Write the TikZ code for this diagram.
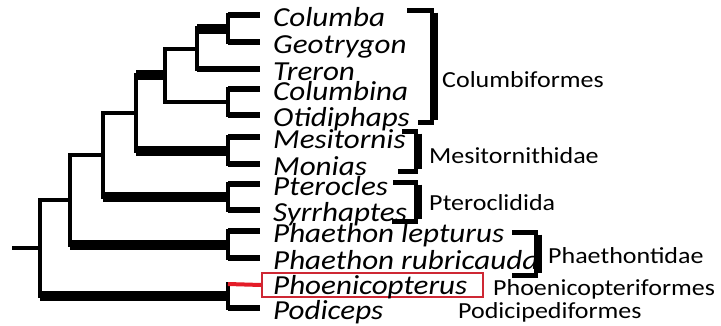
\documentclass[tikz,border=0pt]{standalone}
\usepackage{fontspec}
\newfontfamily\spfont[FakeStretch=1.13]{Carlito}
\definecolor{boxred}{RGB}{206,40,52}
\definecolor{linered}{RGB}{228,28,40}
\begin{document}
\begin{tikzpicture}[x=1pt,y=-1pt,
  vline/.style={line width=4.5pt,line cap=rect},
  hthin/.style={line width=4.5pt},
  hthick/.style={line width=10pt},
  leaf/.style={line width=5.5pt},
  sp/.style={inner sep=0pt,font=\spfont\itshape\fontsize{27.5}{27.5}\selectfont},
  lab/.style={inner sep=0pt,font=\spfont\fontsize{23}{23}\selectfont},
  brh/.style={line width=5pt},
  brv/.style={line width=8pt}]
\useasboundingbox (0,0) rectangle (721,325);
% leaf tips
\coordinate (t1) at (260,15);
\coordinate (t2) at (260,42);
\coordinate (t3) at (260,69);
\coordinate (t4) at (260,89);
\coordinate (t5) at (260,115);
\coordinate (t6) at (260,137);
\coordinate (t7) at (260,164);
\coordinate (t8) at (260,184);
\coordinate (t9) at (260,210);
\coordinate (t10) at (260,231);
\coordinate (t11) at (260,258);
\coordinate (t12) at (260,284);
\coordinate (t13) at (260,308);
% internal nodes
\coordinate (A) at (228,28.5);
\coordinate (B) at (197,48.75);
\coordinate (C) at (228,102);
\coordinate (D) at (165,75.4);
\coordinate (E) at (228,150.5);
\coordinate (F) at (136,113);
\coordinate (G) at (228,197);
\coordinate (H) at (103,155);
\coordinate (I) at (228,244.5);
\coordinate (J) at (70,199.75);
\coordinate (K) at (228,296);
\coordinate (L) at (40,247.9);
\coordinate (R) at (12,247.9);
% verticals
\draw[vline] (A |- t1) -- (A |- t2);
\draw[vline] (B |- A) -- (B |- t3);
\draw[vline] (C |- t4) -- (C |- t5);
\draw[vline] (D |- B) -- (D |- C);
\draw[vline] (E |- t6) -- (E |- t7);
\draw[vline] (F |- D) -- (F |- E);
\draw[vline] (G |- t8) -- (G |- t9);
\draw[vline] (H |- F) -- (H |- G);
\draw[vline] (I |- t10) -- (I |- t11);
\draw[vline] (J |- H) -- (J |- I);
\draw[vline] (K |- t12) -- (K |- t13);
\draw[vline] (L |- J) -- (L |- K);
% branches
\draw[hthick] (B |- A) -- (A);
\draw[hthin] (D |- B) -- (B);
\draw[hthin] (D |- C) -- (C);
\draw[hthick] (F |- D) -- (D);
\draw[hthick] (F |- E) -- (E);
\draw[hthin] (H |- F) -- (F);
\draw[hthick] (H |- G) -- (G);
\draw[hthin] (J |- H) -- (H);
\draw[hthick] (J |- I) -- (I);
\draw[hthin] (L |- J) -- (J);
\draw[hthick] (L |- K) -- (K);
\draw[hthin] (R) -- (L);
% leaves
\draw[leaf] (A |- t1) -- (t1);
\draw[leaf] (A |- t2) -- (t2);
\draw[leaf] (B |- t3) -- (t3);
\draw[leaf] (C |- t4) -- (t4);
\draw[leaf] (C |- t5) -- (t5);
\draw[leaf] (E |- t6) -- (t6);
\draw[leaf] (E |- t7) -- (t7);
\draw[leaf] (G |- t8) -- (t8);
\draw[leaf] (G |- t9) -- (t9);
\draw[leaf] (I |- t10) -- (t10);
\draw[leaf] (I |- t11) -- (t11);
\draw[leaf] (K |- t13) -- (t13);
% red box
\node[draw=boxred,line width=2pt,minimum width=221pt,minimum height=24pt,inner sep=0pt,anchor=north west] (pbox) at (261,272) {};
\draw[leaf,line width=4pt,linered] (K |- t12) -- (pbox.west);
% species names
\node[sp,anchor=base west] (s1) at (273,26) {Columba};
\node[sp,anchor=base west] (s2) at (273,53) {Geotrygon};
\node[sp,anchor=base west] (s3) at (273,80) {Treron};
\node[sp,anchor=base west] (s4) at (273,100) {Columbina};
\node[sp,anchor=base west] (s5) at (273,126) {Otidiphaps};
\node[sp,anchor=base west] (s6) at (273,148) {Mesitornis};
\node[sp,anchor=base west] (s7) at (273,175) {Monias};
\node[sp,anchor=base west] (s8) at (273,195) {Pterocles};
\node[sp,anchor=base west] (s9) at (273,221) {Syrrhaptes};
\node[sp,anchor=base west] (s10) at (273,242) {Phaethon lepturus};
\node[sp,anchor=base west] (s11) at (273,269) {Phaethon rubricauda};
\node[sp,anchor=base west] (s12) at (273,294) {Phoenicopterus};
\node[sp,anchor=base west] (s13) at (273,319) {Podiceps};
% brackets
\coordinate (b1t) at (434,10); \coordinate (b1b) at (434,122);
\draw[brh] (407,10) -- (b1t);
\draw[brh] (418,122) -- (b1b);
\draw[brv] ([yshift=-2.5pt]b1t) -- ([yshift=2.5pt]b1b);
\coordinate (b2t) at (418,131); \coordinate (b2b) at (418,171);
\draw[brh] (402,131) -- (b2t);
\draw[brh] (398,171) -- (b2b);
\draw[brv] ([yshift=-2.5pt]b2t) -- ([yshift=2.5pt]b2b);
\coordinate (b3t) at (418,182); \coordinate (b3b) at (418,221);
\draw[brh] (393,182) -- (b3t);
\draw[brh] (392,221) -- (b3b);
\draw[brv] ([yshift=-2.5pt]b3t) -- ([yshift=2.5pt]b3b);
\coordinate (b4t) at (538,232); \coordinate (b4b) at (538,275);
\draw[brh] (512,232) -- (b4t);
\draw[brh] (512,275) -- (b4b);
\draw[brv] ([yshift=-2.5pt]b4t) -- ([yshift=2.5pt]b4b);
% group labels
\node[lab,anchor=base west] (l1) at (442,87) {Columbiformes};
\node[lab,anchor=base west] (l2) at (429,163) {Mesitornithidae};
\node[lab,anchor=base west] (l3) at (429,210) {Pteroclidida};
\node[lab,anchor=base west] (l4) at (548,263) {Phaethontidae};
\node[lab,anchor=base west] (l5) at (493,295) {Phoenicopteriformes};
\node[lab,anchor=base west] (l6) at (458,318) {Podicipediformes};
\end{tikzpicture}
\end{document}
